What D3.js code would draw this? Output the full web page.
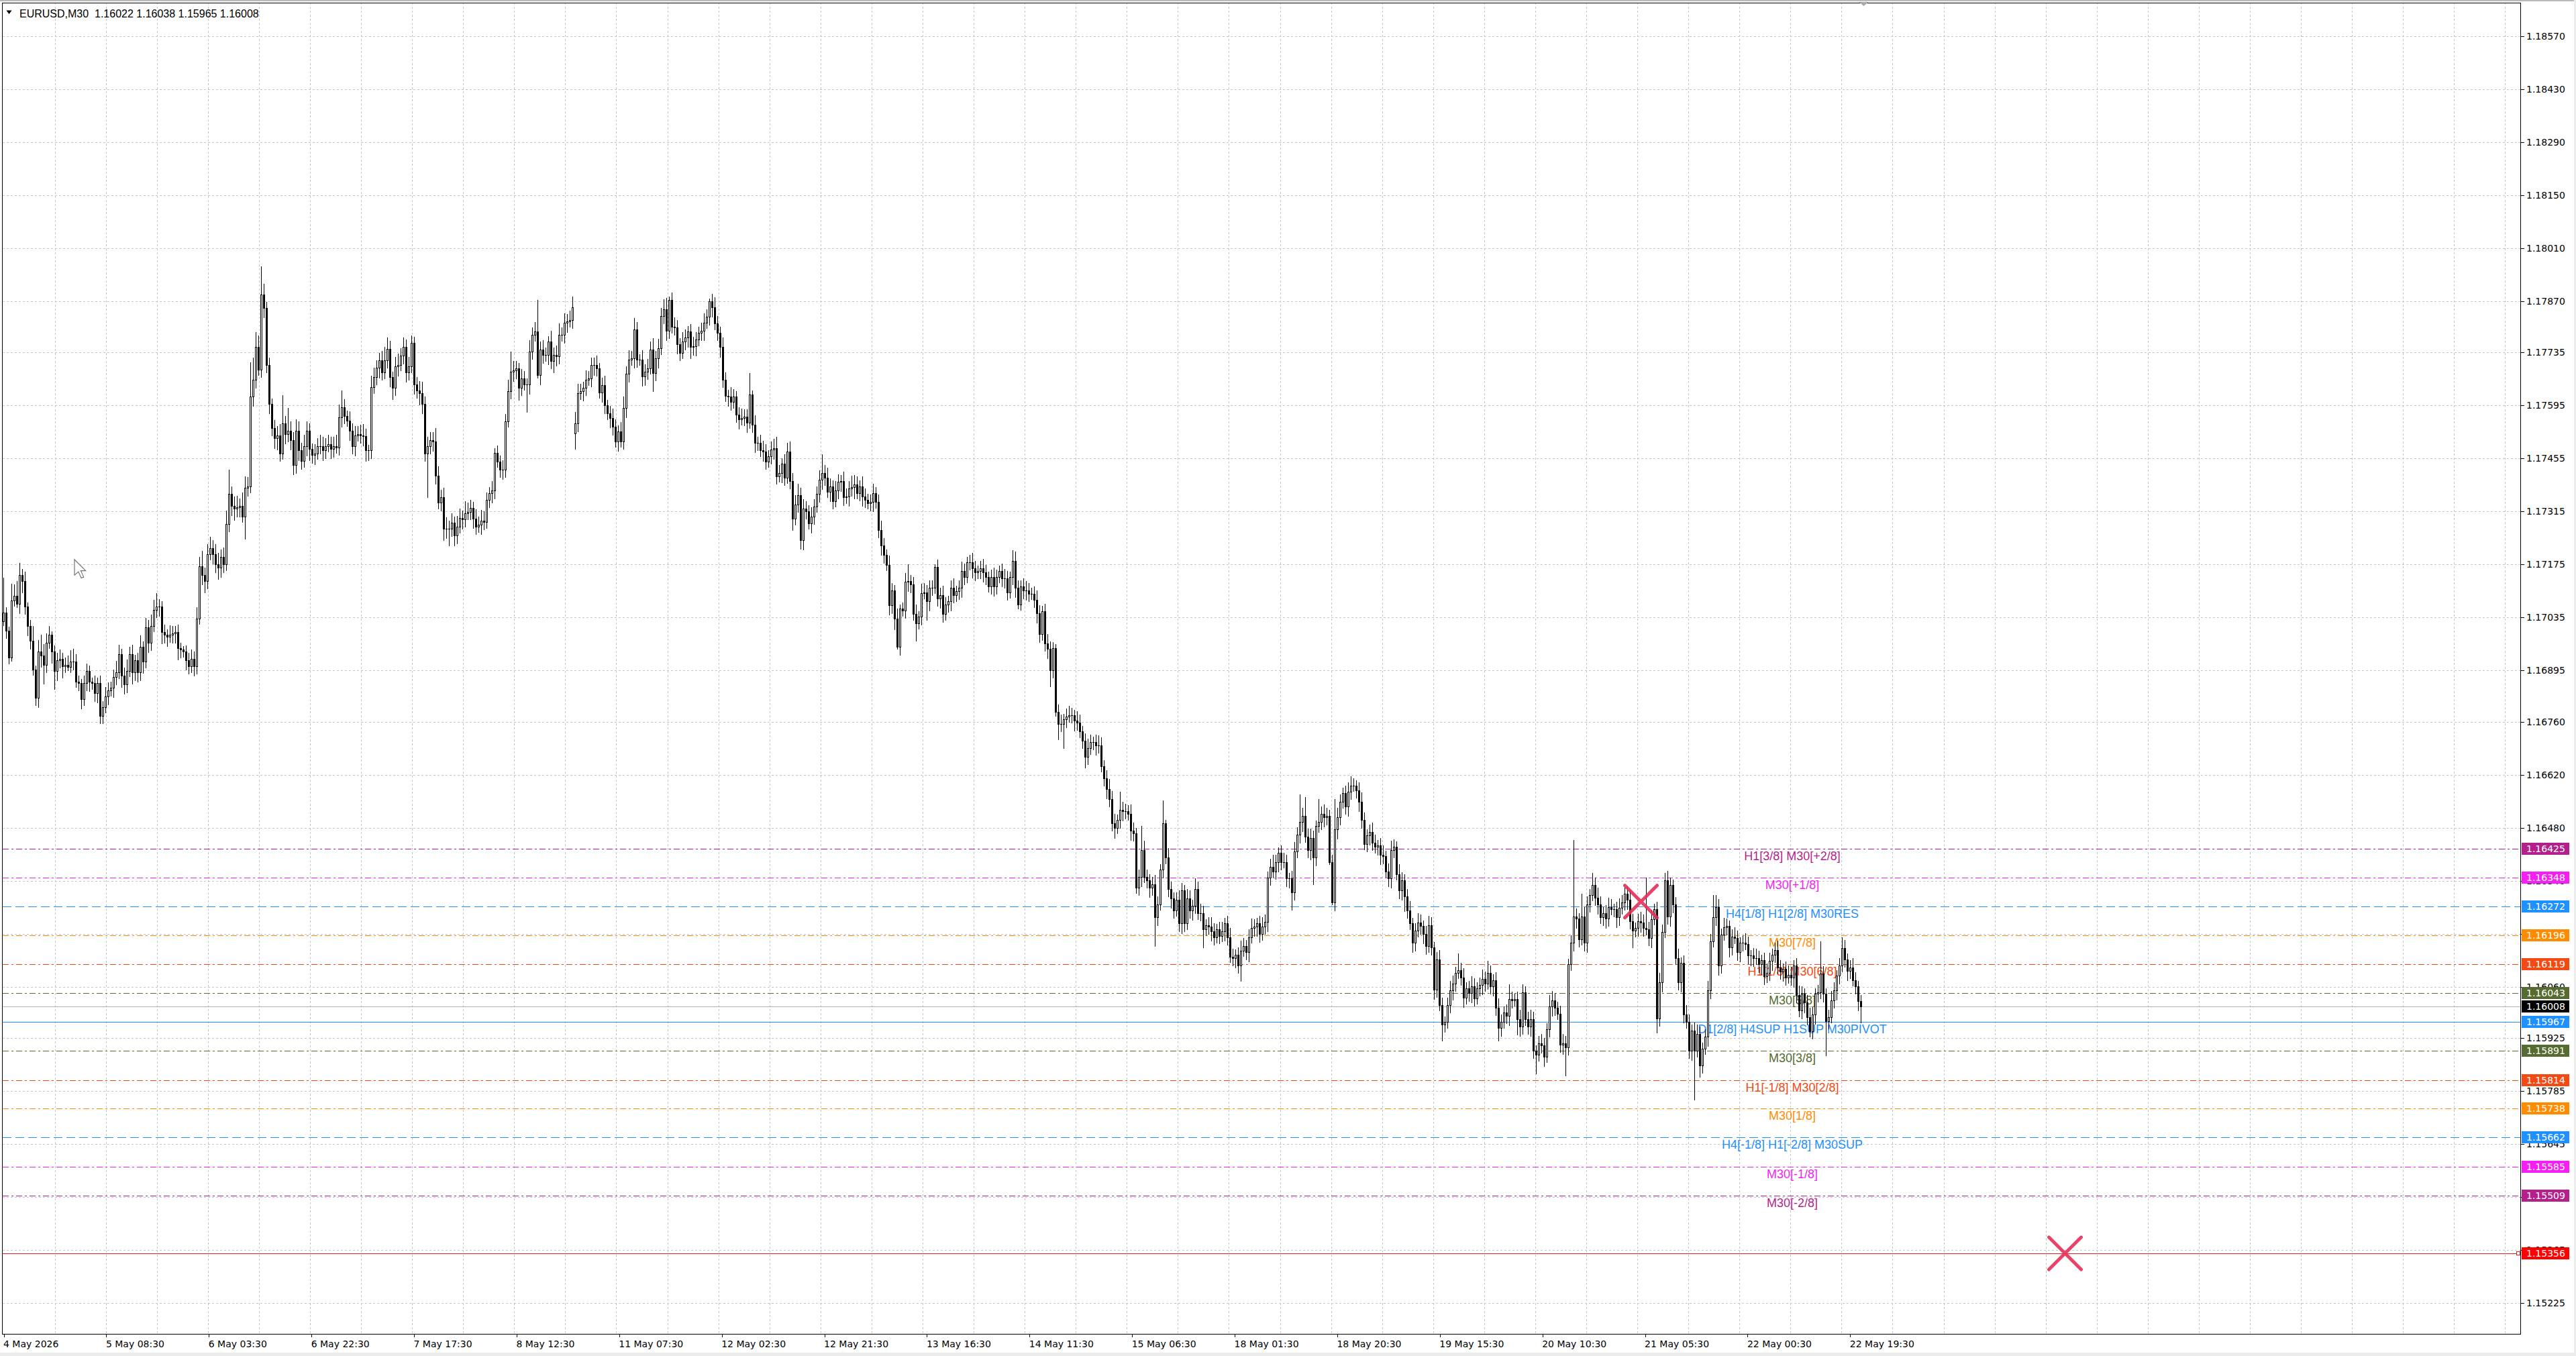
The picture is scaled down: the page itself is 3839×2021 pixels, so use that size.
<!DOCTYPE html>
<html><head><meta charset="utf-8">
<script src="https://cdn.jsdelivr.net/npm/d3@7/dist/d3.min.js"></script>
<style>html,body{margin:0;padding:0;background:#fff;overflow:hidden}</style>
</head><body>
<svg id="c" width="3839" height="2021" xmlns="http://www.w3.org/2000/svg"></svg>
<script>
// ===== DATA =====
const chartTitle = "EURUSD,M30  1.16022 1.16038 1.15965 1.16008";
// prices in points above 1.15000 (1 point = 0.00001)
const weekOpens = [2025, 2521, 1211];
const week1Close = [
2048,2001,1930,2080,2092,2072,2147,2132,2064,2013,
1973,1898,1823,1945,1934,1910,1969,1989,1946,1894,
1922,1926,1906,1910,1905,1918,1918,1866,1862,1819,
1862,1894,1866,1862,1835,1862,1775,1799,1826,1843,
1850,1878,1890,1938,1882,1858,1894,1938,1890,1922,
1890,1957,1918,2009,1969,2013,2056,2064,2064,1997,
1989,1985,1989,1993,1997,1954,1950,1946,1922,1906,
1926,1906,2033,2171,2147,2132,2203,2219,2203,2175,
2167,2195,2175,2282,2361,2330,2322,2326,2330,2302,
2377,2381,2619,2662,2749,2690,2888,2852,2702,2599,
2536,2508,2516,2468,2547,2520,2528,2504,2437,2528,
2476,2448,2488,2528,2480,2464,2468,2488,2488,2476,
2488,2492,2480,2488,2484,2563,2591,2567,2555,2528,
2488,2516,2520,2516,2514,2476,2476,2643,2670,2694,
2714,2682,2714,2745,2670,2642,2698,2702,2726,2749,
2682,2698,2761,2650,2635,2627,2599,2468,2488,2504,
2500,2409,2338,2353,2270,2270,2270,2286,2251,2274,
2298,2294,2310,2314,2325,2296,2275,2281,2290,2287,
2346,2364,2370,2470,2447,2426,2426,2553,2633,2684,
2687,2693,2642,2666,2651,2651,2737,2781,2790,2675,
2743,2728,2728,2763,2713,2728,2725,2781,2781,2814,
2817,2820,2855];
const week2Close = [
2547,2627,2633,2642,2663,2666,2701,2701,2693,2630,
2648,2595,2574,2562,2538,2500,2527,2500,2589,2678,
2716,2719,2796,2716,2716,2672,2684,2693,2743,2681,
2719,2746,2832,2849,2793,2873,2802,2801,2757,2734,
2763,2775,2790,2749,2752,2769,2787,2793,2814,2829,
2870,2855,2811,2787,2749,2663,2621,2618,2604,2618,
2571,2559,2562,2565,2550,2624,2544,2497,2497,2476,
2473,2447,2461,2479,2482,2408,2417,2441,2405,2473,
2396,2296,2334,2358,2240,2322,2316,2284,2302,2328,
2361,2399,2417,2405,2367,2382,2343,2370,2393,2396,
2352,2355,2376,2379,2387,2364,2382,2355,2346,2337,
2340,2364,2340,2266,2225,2200,2174,2067,2106,2033,
1957,2059,2054,2130,2132,2122,2044,2020,2037,2100,
2101,2079,2114,2114,2168,2086,2094,2044,2069,2078,
2114,2094,2104,2114,2158,2142,2181,2181,2165,2154,
2158,2165,2154,2142,2118,2142,2118,2142,2158,2138,
2138,2102,2142,2185,2114,2070,2118,2106,2106,2098,
2098,2082,2047,1991,2051,1967,1952,1896,1955,1785,
1754,1754,1766,1774,1777,1777,1762,1758,1734,1710,
1667,1690,1706,1706,1698,1698,1643,1611,1583,1556,
1492,1480,1500,1528,1524,1524,1516,1473,1465,1322,
1350,1421,1350,1342,1322,1330,1243,1278,1369,1492,
1401,1318,1294,1262,1290,1227,1314,1227,1294,1262,
1274,1318,1254,1254,1211,1223,1219,1207,1191,1211];
const week3Close = [
1195,1207,1227,1191,1140,1136,1144,1116,1156,1168,
1152,1191,1215,1219,1227,1199,1219,1231,1349,1377,
1365,1389,1413,1389,1389,1346,1346,1309,1417,1461,
1496,1512,1457,1421,1453,1401,1484,1496,1516,1508,
1512,1389,1282,1476,1508,1548,1571,1536,1575,1591,
1591,1579,1548,1500,1437,1460,1468,1441,1429,1433,
1409,1405,1365,1346,1421,1429,1358,1314,1342,1298,
1262,1227,1176,1208,1230,1220,1200,1167,1223,1164,
1053,1132,1012,961,967,1012,1050,1069,1097,1103,
1084,1031,1056,1043,1062,1030,1056,1065,1081,1069,
1097,1062,1078,1005,951,967,993,983,1027,1024,
1027,974,955,1046,974,955,974,891,880,910,
905,876,948,1008,1024,1005,989,907,910,900,
1119,1176,1246,1240,1186,1246,1176,1278,1303,1328,
1296,1278,1243,1255,1240,1271,1265,1265,1243,1268,
1283,1306,1290,1233,1208,1215,1233,1230,1215,1212,
1189,1239,1265,977,1072,1205,1341,1246,1328,1277,
1135,1072,1123,986,967,891,945,891,935,853,
897,928,1050,1180,1243,1271,1116,1198,1217,1220,
1164,1192,1189,1151,1176,1176,1173,1142,1142,1135,
1135,1119,1130,1087,1097,1129,1145,1157,1110,1100,
1107,1085,1092,1085,1116,1038,997,1041,1018,980,
943,987,1041,1045,1095,1041,970,980,1024,1051,
1089,1116,1163,1133,1102,1110,1078,1061,1022,1008];
// upper / lower wick lengths (points)
const week1Up = [
92,15,10,44,30,40,32,16,25,10, 15,40,10,30,45,30,25,24,10,15,
20,25,15,20,25,30,35,20,15,10, 20,20,15,10,20,15,20,15,25,20,
15,20,30,25,15,20,30,20,25,15, 20,30,15,25,20,30,25,35,20,15,
20,15,25,20,15,20,15,10,15,20, 25,20,30,25,40,20,25,30,20,25,
30,20,25,35,64,20,25,30,20,35, 30,25,90,60,40,30,75,29,16,20,
15,20,25,30,76,20,60,25,20,30, 25,20,30,25,20,15,25,20,30,25,
20,25,20,25,30,35,44,20,15,25, 20,25,20,25,30,20,15,30,25,20,
20,25,36,30,20,15,25,30,20,25, 20,25,19,15,20,25,30,20,25,20,
20,36,25,20,25,30,20,25,15,30, 25,20,32,25,20,15,25,20,30,25,
20,15,25,12,20,15,25,20,30,53, 25,20,15,25,20,15,30,20,25,83,
20,25,20,15,30,20,25,30,20,25, 20,25,27];
const week1Dn = [
10,20,16,10,15,10,25,30,20,25, 20,15,20,25,30,50,20,15,30,47,
25,20,30,15,10,15,20,15,20,25, 15,20,25,15,20,25,20,20,15,20,
15,25,20,15,30,25,20,15,30,20, 25,20,30,15,25,20,15,20,25,30,
20,25,15,20,25,30,20,15,25,20, 15,25,20,15,25,30,20,15,25,20,
30,25,20,15,20,25,30,20,25,15, 59,20,15,25,20,15,20,25,20,25,
20,25,30,20,15,25,20,25,24,20, 25,20,15,25,30,20,25,15,20,25,
20,15,25,20,15,20,25,20,15,25, 20,25,15,20,25,27,25,20,15,20,
25,20,15,20,25,30,20,25,15,20, 25,20,15,25,20,30,25,20,115,20,
25,20,15,20,30,25,45,20,25,20, 15,25,20,15,20,25,20,15,25,20,
15,20,25,20,15,20,25,20,15,20, 25,20,32,20,15,74,25,20,15,6,
25,20,15,25,20,30,25,20,15,20, 25,15,20];
const week2Up = [
30,25,20,15,25,20,21,20,25,15, 20,25,15,20,25,20,15,25,30,20,
25,20,30,20,15,25,20,25,20,30, 20,25,20,27,30,9,20,25,20,15,
25,20,15,20,25,20,15,20,25,20, 7,20,25,20,15,25,20,15,25,20,
15,20,25,20,20,57,10,25,15,20, 25,20,15,20,25,30,20,15,25,24,
27,20,25,30,20,25,20,15,25,20, 20,25,50,20,25,20,15,25,20,15,
25,20,20,30,25,20,15,25,20,15, 20,25,15,20,25,20,15,25,20,15,
25,10,15,23,43,15,20,25,15,25, 25,20,20,20,7,20,20,25,20,15,
20,25,15,20,25,20,15,20,25,20, 15,20,25,20,15,20,25,20,15,20,
25,20,15,28,25,20,15,20,25,20, 15,20,25,20,15,20,25,20,15,10,
20,25,15,20,24,20,15,25,20,15, 20,25,20,15,20,25,20,15,20,25,
20,25,15,47,20,20,15,25,20,15, 20,63,25,20,15,20,25,20,15,60,
8,25,20,15,20,25,20,15,25,20, 15,28,20,25,20,15,20,25,20,15];
const week2Dn = [
40,20,15,25,20,15,20,25,20,15, 25,20,15,25,20,15,25,15,20,25,
20,15,25,20,15,25,24,20,15,48, 20,25,15,20,25,20,15,20,25,20,
15,20,25,30,20,25,15,20,25,15, 20,25,15,20,25,20,15,25,20,15,
20,25,15,20,25,15,20,25,20,15, 25,20,15,20,25,20,15,25,20,15,
20,30,15,20,24,25,20,15,25,20, 15,20,25,20,15,25,20,15,20,25,
20,15,25,20,30,15,20,25,20,15, 20,25,15,20,25,20,15,25,20,30,
5,20,15,20,25,20,15,46,15,20, 15,50,25,20,15,20,25,20,15,20,
25,20,15,20,25,20,15,20,25,20, 15,20,25,20,15,20,25,20,15,20,
25,20,15,20,25,11,15,20,25,20, 15,20,25,20,15,20,25,43,20,10,
40,20,64,20,15,20,25,20,15,20, 28,20,15,20,25,20,15,20,25,20,
20,27,15,20,25,20,15,25,20,15, 20,25,15,20,25,20,75,20,15,20,
15,20,25,20,15,20,25,20,15,20, 25,20,15,20,47,15,20,25,20,15];
const week3Up = [
20,25,15,20,25,20,15,20,25,20, 15,20,25,20,15,20,25,20,15,20,
32,20,15,20,25,20,15,20,25,20, 72,20,48,20,25,20,15,60,20,25,
20,15,20,80,25,20,15,20,25,24, 20,15,20,25,20,15,20,25,20,15,
20,25,15,20,24,20,15,25,20,15, 20,25,15,20,25,20,15,20,25,20,
15,20,25,20,15,20,25,20,15,45, 20,25,15,20,25,20,15,20,25,20,
32,20,15,20,25,20,15,20,40,20, 15,20,25,20,15,20,25,20,15,20,
25,20,15,30,25,20,15,20,25,20, 15,20,202,20,15,60,25,20,15,32,
20,25,20,15,20,25,20,15,20,25, 20,15,20,25,20,15,20,25,20,133,
20,25,15,20,25,20,19,25,20,15, 20,25,15,20,25,20,15,20,25,20,
15,20,25,20,60,32,20,15,25,20, 15,20,25,20,15,20,25,20,15,20,
25,20,15,20,25,20,15,20,25,20, 15,20,25,20,15,20,25,20,15,20,
25,20,15,20,85,20,15,20,25,20, 15,20,27,20,15,20,25,20,15,16];
const week3Dn = [
20,15,25,20,15,20,25,20,40,15, 20,25,15,20,25,20,15,20,25,20,
15,20,25,20,15,20,25,46,20,15, 20,25,15,20,25,71,20,15,20,25,
20,5,5,20,25,20,15,20,25,20, 15,20,25,20,15,20,25,20,15,20,
25,20,15,20,25,20,15,20,25,39, 20,15,25,20,15,20,25,20,15,20,
25,20,15,44,20,15,20,25,20,15, 20,25,15,20,25,20,15,20,25,20,
15,20,25,20,34,20,15,20,25,20, 15,41,25,20,15,20,25,20,49,15,
20,25,15,20,25,20,15,20,25,75, 20,15,20,25,20,15,20,25,20,15,
20,25,15,20,25,20,15,20,25,20, 15,20,25,20,44,15,20,25,20,15,
20,25,15,38,20,25,15,20,25,20, 15,20,25,20,15,20,25,129,15,31,
20,15,25,20,15,20,25,20,15,20, 25,20,15,20,25,20,15,20,25,20,
15,20,25,20,15,20,25,20,15,20, 25,20,15,20,25,20,15,20,25,20,
15,20,25,20,15,20,91,20,15,20, 25,20,15,20,25,20,15,20,25,43];

const priceTicks = [1.18570,1.18430,1.18290,1.18150,1.18010,1.17870,1.17735,1.17595,1.17455,1.17315,1.17175,1.17035,1.16895,1.16760,1.16620,1.16480,1.16340,1.16200,1.16060,1.15925,1.15785,1.15645,1.15505,1.15365,1.15225];
const timeLabels = ["4 May 2026","5 May 08:30","6 May 03:30","6 May 22:30","7 May 17:30","8 May 12:30","11 May 07:30","12 May 02:30","12 May 21:30","13 May 16:30","14 May 11:30","15 May 06:30","18 May 01:30","18 May 20:30","19 May 15:30","20 May 10:30","21 May 05:30","22 May 00:30","22 May 19:30"];
const levelPrices = [1.16425,1.16348,1.16272,1.16196,1.16119,1.16043,1.15967,1.15891,1.15814,1.15738,1.15662,1.15585,1.15509];
const levelNames = ["H1[3/8] M30[+2/8]","M30[+1/8]","H4[1/8] H1[2/8] M30RES","M30[7/8]","H1[1/8] M30[6/8]","M30[5/8]","D1[2/8] H4SUP H1SUP M30PIVOT","M30[3/8]","H1[-1/8] M30[2/8]","M30[1/8]","H4[-1/8] H1[-2/8] M30SUP","M30[-1/8]","M30[-2/8]"];
const bidPrice = 1.16008;
const targetPrice = 1.15356;
const crossBars = [610, 768];
const crossPrices = [1.16285, 1.15356];

// ===== STYLE / LAYOUT =====
const levelColors = ["#B41F8C","#F51EF5","#1E90FF","#FF8C00","#F24A12","#556B2F","#1E90FF","#556B2F","#F24A12","#FF8C00","#1E90FF","#F51EF5","#B41F8C"];
const DD = "9,4,3,4", DASH = "13,6";
const levelDash = [DD, DD, DASH, DD, DD, DD, null, DD, DD, DD, DASH, DD, DD];
const labelStepBars = 38.22;   // time-label spacing on the axis (in bar widths)
const gridStepBars = 19.02;    // vertical grid spacing (in bar widths)

// ===== BUILD =====
const W = 3839, H = 2021, PL = 4, PT = 4, PR = 3757, PB = 1988;
const svg = d3.select("#c");
const y = d3.scaleLinear().domain([1.15225, 1.18570]).range([1942, 54]);
const x = d3.scaleLinear().domain([0, 1]).range([5.5, 9.5]);
const pt = v => 1.15 + v / 100000;

const weeks = [[week1Close, week1Up, week1Dn],[week2Close, week2Up, week2Dn],[week3Close, week3Up, week3Dn]];
const bars = [];
weeks.forEach(([cl, up, dn], w) => {
  let o = weekOpens[w];
  cl.forEach((c, j) => {
    bars.push({i: bars.length, o: pt(o), c: pt(c), h: pt(Math.max(o, c) + up[j]), l: pt(Math.min(o, c) - dn[j])});
    o = c;
  });
});

svg.append("rect").attr("width", W).attr("height", H).attr("fill", "#fff");
svg.append("rect").attr("x", 0).attr("y", 0).attr("width", W).attr("height", 2).attr("fill", "#b9b9b9");
svg.append("rect").attr("x", 0).attr("y", 2016).attr("width", W).attr("height", 5).attr("fill", "#ececec");
svg.append("rect").attr("x", 3836).attr("y", 0).attr("width", 3).attr("height", H).attr("fill", "#ececec");

const defs = svg.append("defs");
defs.append("clipPath").attr("id", "plot").append("rect").attr("x", PL).attr("y", PT).attr("width", PR - PL).attr("height", PB - PT);
const plot = svg.append("g").attr("clip-path", "url(#plot)");

// grid
const gridG = plot.append("g").attr("stroke", "#c6c6c6").attr("stroke-width", 1).attr("stroke-dasharray", "3,3").attr("shape-rendering", "crispEdges");
gridG.selectAll("line.h").data(priceTicks).join("line").attr("class", "h")
  .attr("x1", PL).attr("x2", PR).attr("y1", d => Math.round(y(d)) + 0.5).attr("y2", d => Math.round(y(d)) + 0.5);
const vIdx = d3.range(1, 60).map(k => k * gridStepBars).filter(i => x(i) < PR - 2);
gridG.selectAll("line.v").data(vIdx).join("line").attr("class", "v")
  .attr("y1", PT).attr("y2", PB).attr("x1", d => Math.round(x(d)) + 0.5).attr("x2", d => Math.round(x(d)) + 0.5);

// level lines
const lvl = plot.append("g").attr("shape-rendering", "crispEdges");
lvl.selectAll("line").data(levelPrices).join("line")
  .attr("x1", PL).attr("x2", PR)
  .attr("y1", d => Math.round(y(d)) + 0.5).attr("y2", d => Math.round(y(d)) + 0.5)
  .attr("stroke", (d, i) => levelColors[i]).attr("stroke-width", 1)
  .attr("stroke-dasharray", (d, i) => levelDash[i]);
lvl.append("line").attr("x1", PL).attr("x2", PR).attr("y1", Math.round(y(bidPrice)) + 0.5).attr("y2", Math.round(y(bidPrice)) + 0.5)
  .attr("stroke", "#b0b0b0").attr("stroke-width", 1);
lvl.append("line").attr("x1", PL).attr("x2", PR).attr("y1", Math.round(y(targetPrice)) + 0.5).attr("y2", Math.round(y(targetPrice)) + 0.5)
  .attr("stroke", "#e0201e").attr("stroke-width", 1);

// level texts
plot.append("g").selectAll("text").data(levelPrices).join("text")
  .attr("x", 2671).attr("y", d => y(d) + 17)
  .attr("text-anchor", "middle").attr("font-family", "Liberation Sans, Arial, sans-serif").attr("font-size", 18)
  .attr("fill", (d, i) => levelColors[i]).text((d, i) => levelNames[i]);

// candles
const cg = plot.append("g").attr("shape-rendering", "crispEdges");
cg.selectAll("line.w").data(bars).join("line").attr("class", "w")
  .attr("x1", d => x(d.i)).attr("x2", d => x(d.i))
  .attr("y1", d => Math.round(y(d.h))).attr("y2", d => Math.round(y(d.l)) + 1)
  .attr("stroke", "#000").attr("stroke-width", 1);
cg.selectAll("rect.b").data(bars).join("rect").attr("class", "b").each(function(d) {
  const r = d3.select(this);
  const top = Math.round(y(Math.max(d.o, d.c))), bot = Math.round(y(Math.min(d.o, d.c)));
  if (d.c > d.o) {
    r.attr("x", x(d.i) - 1).attr("width", 2).attr("y", top + 0.5).attr("height", Math.max(0, bot - top))
     .attr("fill", "#fff").attr("stroke", "#000").attr("stroke-width", 1);
  } else {
    r.attr("x", x(d.i) - 1.5).attr("width", 3).attr("y", top).attr("height", Math.max(1, bot - top + 1)).attr("fill", "#000");
  }
});

// cross markers
const xg = plot.append("g").attr("stroke", "#E52E58").attr("stroke-width", 5).attr("stroke-linecap", "round").attr("opacity", 0.9);
crossBars.forEach((b, k) => {
  const cx = x(b), cy = y(crossPrices[k]), s = 24;
  xg.append("line").attr("x1", cx - s).attr("y1", cy - s).attr("x2", cx + s).attr("y2", cy + s);
  xg.append("line").attr("x1", cx - s).attr("y1", cy + s).attr("x2", cx + s).attr("y2", cy - s);
});
// small square at end of target line
svg.append("rect").attr("x", 3750.5).attr("y", Math.round(y(targetPrice)) - 2.5).attr("width", 5).attr("height", 5)
  .attr("fill", "#fff").attr("stroke", "#e0201e").attr("stroke-width", 1);

// frame
svg.append("rect").attr("x", PL - 0.5).attr("y", PT + 0.5).attr("width", PR - PL).attr("height", PB - PT)
  .attr("fill", "none").attr("stroke", "#000").attr("stroke-width", 1).attr("shape-rendering", "crispEdges");

// price axis
const axG = svg.append("g").attr("font-family", "DejaVu Sans, Verdana, sans-serif").attr("font-size", 14);
axG.selectAll("line").data(priceTicks).join("line")
  .attr("x1", PR).attr("x2", PR + 5).attr("y1", d => Math.round(y(d)) + 0.5).attr("y2", d => Math.round(y(d)) + 0.5)
  .attr("stroke", "#000").attr("shape-rendering", "crispEdges");
axG.selectAll("text").data(priceTicks).join("text")
  .attr("x", 3765).attr("y", d => y(d) + 5).attr("fill", "#000").text(d => d.toFixed(5));

// price boxes
const boxes = levelPrices.map((p, i) => ({p, col: levelColors[i]}));
boxes.push({p: bidPrice, col: "#000"});
boxes.push({p: targetPrice, col: "#FF0000"});
const bx = svg.append("g").attr("font-family", "DejaVu Sans, Verdana, sans-serif").attr("font-size", 14);
bx.selectAll("rect").data(boxes).join("rect")
  .attr("x", 3758).attr("width", 71).attr("y", d => Math.round(y(d.p)) - 9).attr("height", 18).attr("fill", d => d.col);
bx.selectAll("text").data(boxes).join("text")
  .attr("x", 3765).attr("y", d => y(d.p) + 5).attr("fill", "#fff").text(d => d.p.toFixed(5));

// time axis
const tIdx = timeLabels.map((t, k) => k * labelStepBars);
const tg = svg.append("g").attr("font-family", "DejaVu Sans, Verdana, sans-serif").attr("font-size", 14);
tg.selectAll("line").data(tIdx).join("line")
  .attr("x1", d => Math.round(x(d)) + 0.5).attr("x2", d => Math.round(x(d)) + 0.5).attr("y1", PB).attr("y2", PB + 5)
  .attr("stroke", "#000").attr("shape-rendering", "crispEdges");
tg.selectAll("text").data(tIdx).join("text")
  .attr("x", d => x(d) - 0.5).attr("y", 2008).attr("fill", "#000").text((d, k) => timeLabels[k]);

// title
svg.append("path").attr("d", "M9.5,15.5 L17.5,15.5 L13.5,21 Z").attr("fill", "#000");
svg.append("text").attr("x", 29).attr("y", 26).attr("font-family", "Liberation Sans, Arial, sans-serif").attr("font-size", 16)
  .attr("fill", "#000").attr("xml:space", "preserve").style("white-space", "pre").text(chartTitle);

// shift marker at top
svg.append("path").attr("d", `M${x(693) - 7},3 L${x(693) + 7},3 L${x(693)},9 Z`).attr("fill", "#a8a8a8");

// mouse cursor
svg.append("path").attr("transform", "translate(111,834) scale(1.45)")
  .attr("d", "M0,0 L0,16 L4,12.5 L7,19 L9.5,18 L6.5,11.5 L11.5,11.5 Z")
  .attr("fill", "#fff").attr("stroke", "#707070").attr("stroke-width", 0.8);
</script>
</body></html>
